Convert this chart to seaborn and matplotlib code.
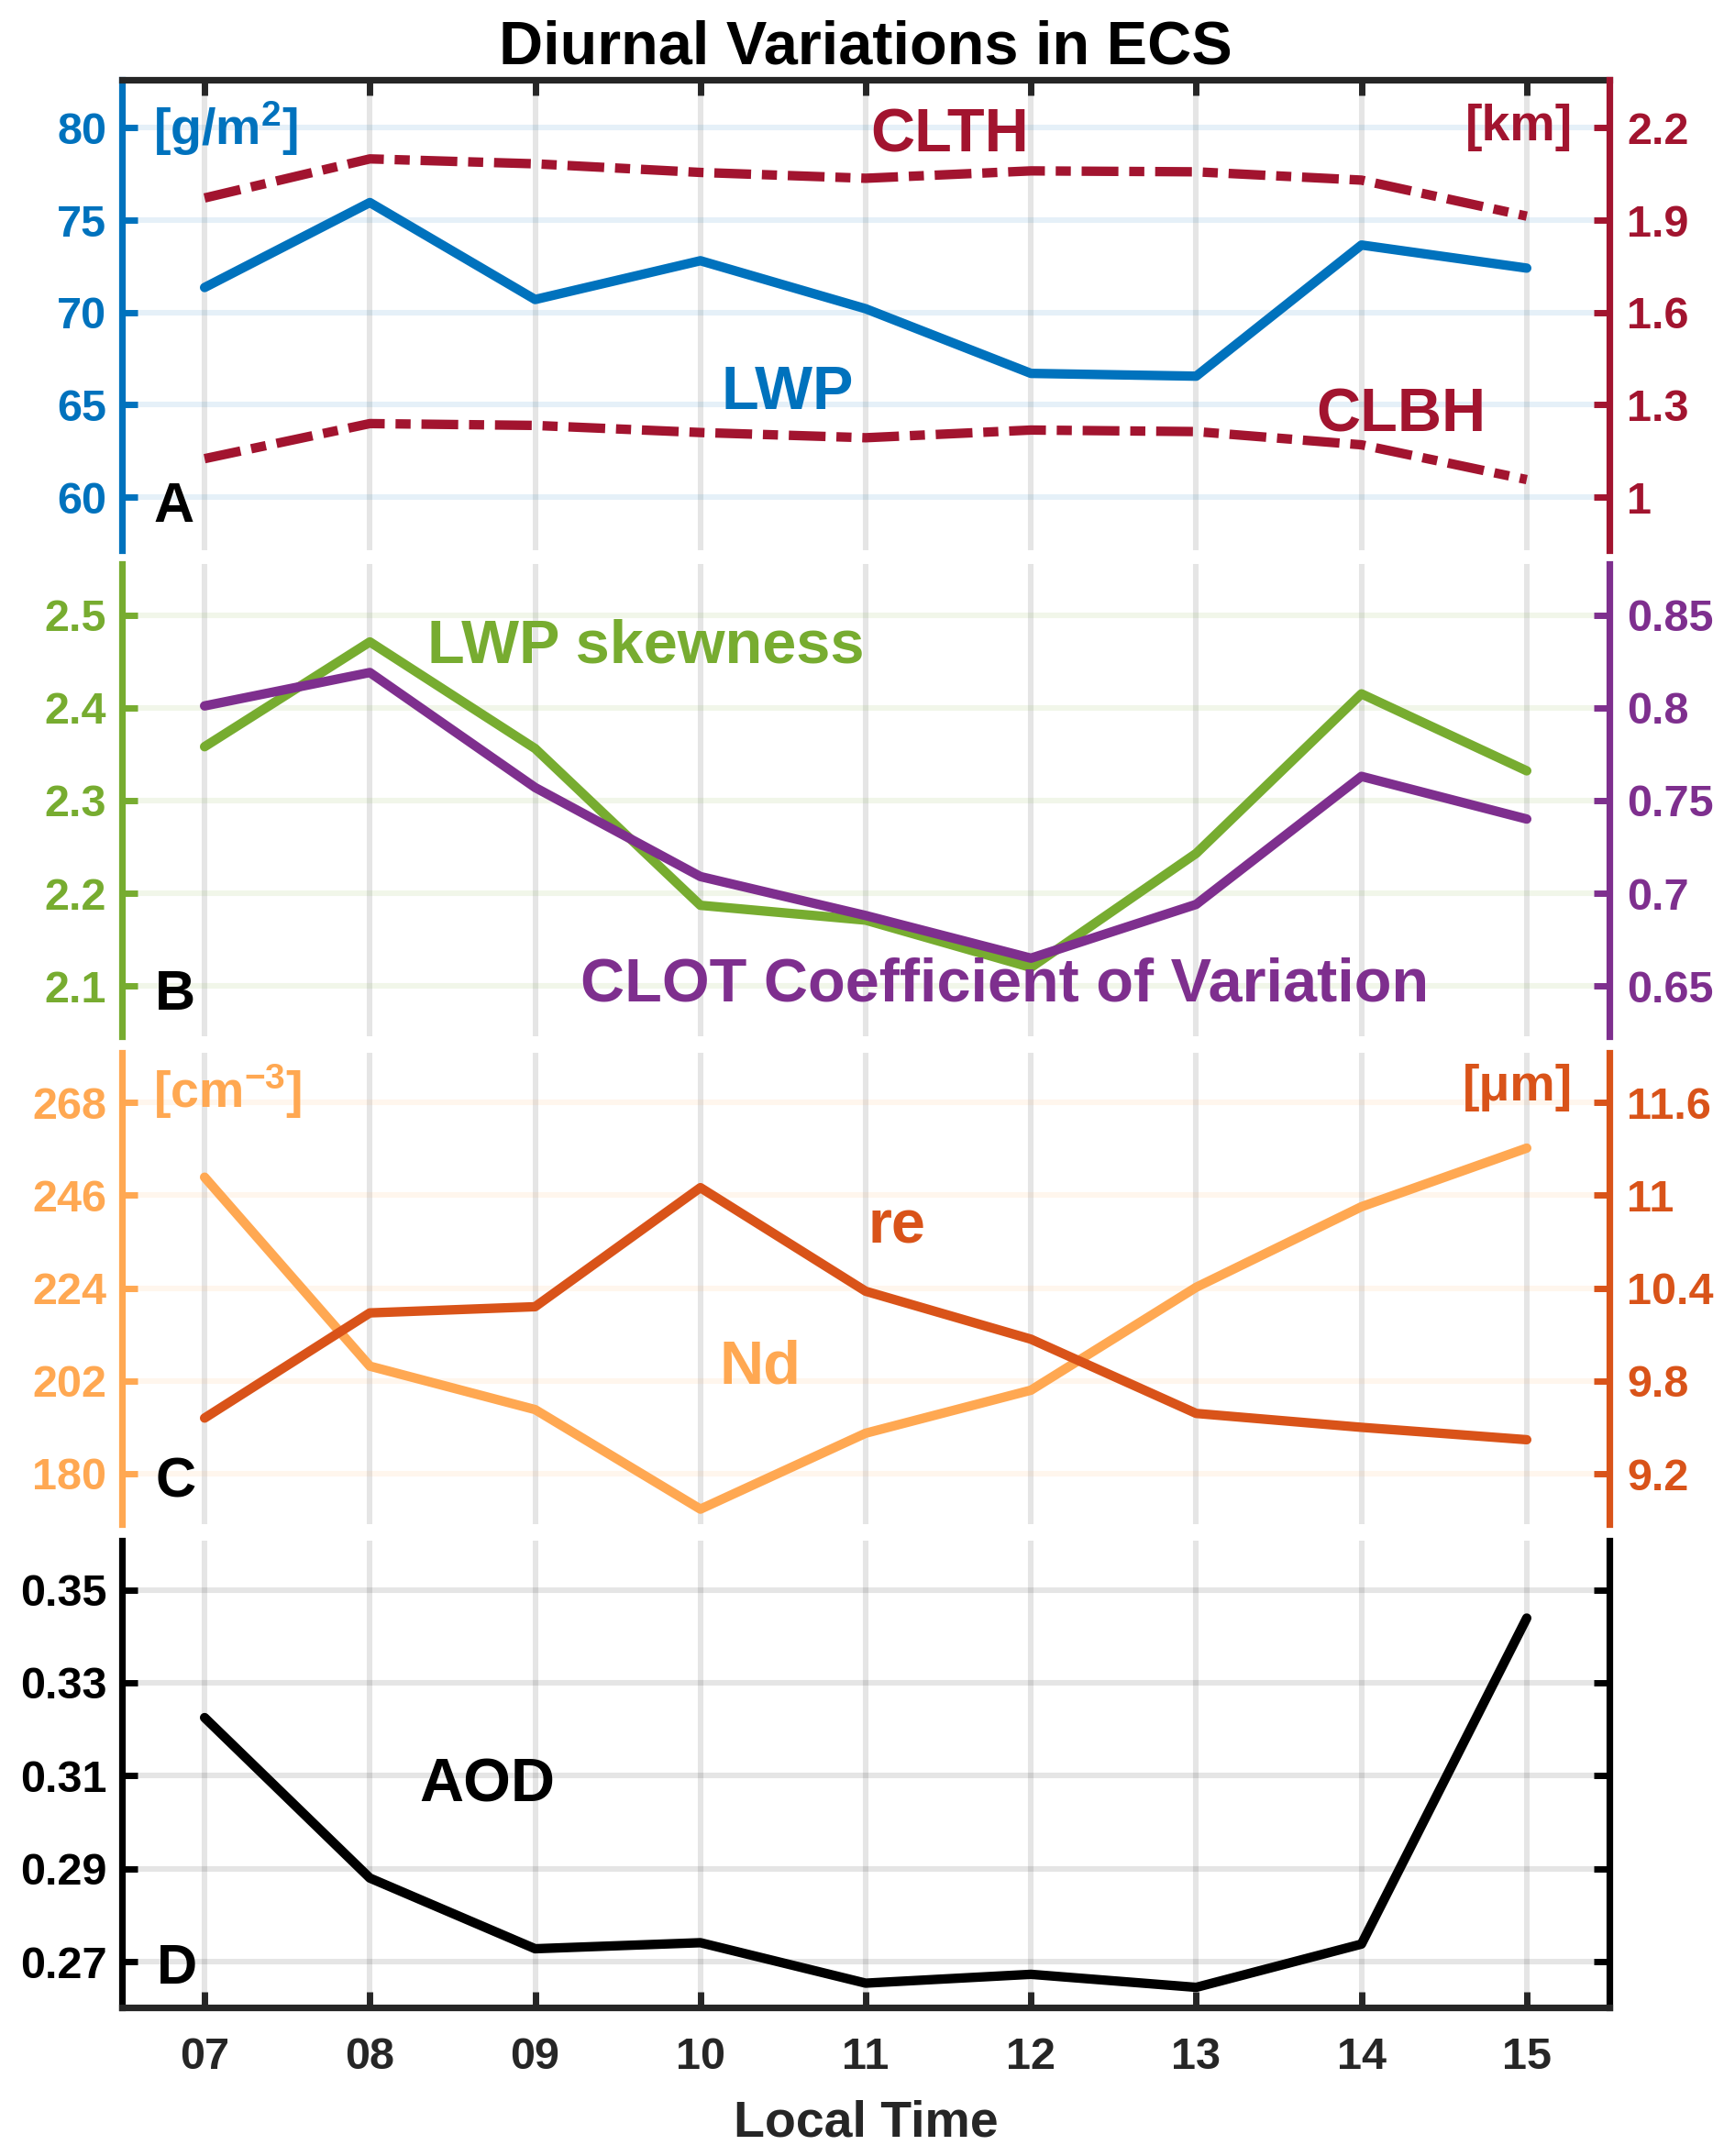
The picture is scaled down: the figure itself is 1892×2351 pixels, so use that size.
import matplotlib
matplotlib.use("Agg")
import matplotlib.pyplot as plt
import seaborn as sns

# ---------------- data ----------------
hours = [7, 8, 9, 10, 11, 12, 13, 14, 15]
hour_labels = ["07", "08", "09", "10", "11", "12", "13", "14", "15"]

lwp = [71.35, 75.95, 70.7, 72.8, 70.2, 66.7, 66.55, 73.65, 72.4]          # g/m2
clth = [1.972, 2.099, 2.083, 2.055, 2.036, 2.060, 2.057, 2.030, 1.913]     # km
clbh = [1.125, 1.239, 1.233, 1.210, 1.193, 1.218, 1.213, 1.170, 1.057]     # km

lwp_skew = [2.358, 2.471, 2.356, 2.187, 2.171, 2.120, 2.243, 2.415, 2.332]
clot_cv = [0.801, 0.819, 0.757, 0.709, 0.688, 0.665, 0.694, 0.763, 0.740]

nd = [250.3, 205.5, 195.2, 171.6, 189.6, 199.8, 224.2, 243.3, 257.2]       # cm-3
re_um = [9.56, 10.24, 10.28, 11.05, 10.38, 10.07, 9.59, 9.50, 9.42]        # um

aod = [0.3225, 0.2880, 0.2728, 0.2741, 0.2654, 0.2673, 0.2645, 0.2738, 0.3439]

a_left_ticks = [60, 65, 70, 75, 80]
a_right_ticks = [1.0, 1.3, 1.6, 1.9, 2.2]
a_right_labels = ["1", "1.3", "1.6", "1.9", "2.2"]
b_left_ticks = [2.1, 2.2, 2.3, 2.4, 2.5]
b_left_labels = ["2.1", "2.2", "2.3", "2.4", "2.5"]
b_right_ticks = [0.65, 0.70, 0.75, 0.80, 0.85]
b_right_labels = ["0.65", "0.7", "0.75", "0.8", "0.85"]
c_left_ticks = [180, 202, 224, 246, 268]
c_right_ticks = [9.2, 9.8, 10.4, 11.0, 11.6]
c_right_labels = ["9.2", "9.8", "10.4", "11", "11.6"]
d_left_ticks = [0.27, 0.29, 0.31, 0.33, 0.35]
d_left_labels = ["0.27", "0.29", "0.31", "0.33", "0.35"]

# ---------------- style ----------------
sns.set_style("white")
plt.rcParams["font.family"] = ["Liberation Sans", "DejaVu Sans"]
plt.rcParams["font.weight"] = "bold"
plt.rcParams["mathtext.fontset"] = "custom"
plt.rcParams["mathtext.rm"] = "Liberation Sans:bold"
plt.rcParams["mathtext.bf"] = "Liberation Sans:bold"
plt.rcParams["mathtext.it"] = "Liberation Sans:bold"
plt.rcParams["mathtext.default"] = "rm"

C_BLUE = "#0072BD"
C_DRED = "#A2142F"
C_GREEN = "#77AC30"
C_PURPLE = "#7E2F8E"
C_LORANGE = "#FFA852"
C_DORANGE = "#D95319"
C_AX = "#262626"

LW = 3.7
SPW = 2.6
TICKFS = 17.5
DASHDOT = (0, (3.9, 1.15, 1.6, 1.15))

fig = plt.figure(figsize=(9.46, 11.755), dpi=200)
fig.patch.set_facecolor("white")

L = 133 / 1892
W = (1755 - 133) / 1892
H_FIG = 2351


def panel(top_px, bot_px):
    return fig.add_axes([L, 1 - bot_px / H_FIG, W, (bot_px - top_px) / H_FIG])


def style_left(ax, color, ylim, ticks, labels=None):
    ax.set_xlim(6.5, 15.5)
    ax.set_ylim(*ylim)
    ax.set_yticks(ticks)
    if labels is not None:
        ax.set_yticklabels(labels)
    for s in ["top", "bottom", "right"]:
        ax.spines[s].set_visible(False)
    ax.spines["left"].set_color(color)
    ax.spines["left"].set_linewidth(SPW)
    ax.tick_params(axis="y", which="both", direction="in", length=6, width=2.5,
                   colors=color, labelsize=TICKFS, pad=6)
    ax.set_xticks(hours)
    ax.tick_params(axis="x", which="both", length=0, labelbottom=False,
                   labeltop=False)
    ax.grid(axis="x", color="black", alpha=0.1, lw=2.2)
    ax.grid(axis="y", color=color, alpha=0.1, lw=2.2)
    ax.set_axisbelow(True)
    ax.set_xlabel("")
    ax.set_ylabel("")
    for t in ax.get_yticklabels():
        t.set_fontweight("bold")


def style_right(ax2, color, ylim, ticks, labels):
    ax2.set_ylim(*ylim)
    ax2.set_yticks(ticks)
    ax2.set_yticklabels(labels)
    for s in ["top", "bottom", "left"]:
        ax2.spines[s].set_visible(False)
    ax2.spines["right"].set_color(color)
    ax2.spines["right"].set_linewidth(SPW)
    ax2.tick_params(axis="y", which="both", direction="in", length=6, width=2.5,
                    colors=color, labelsize=TICKFS, pad=7)
    ax2.set_xlabel("")
    ax2.set_ylabel("")
    ax2.grid(False)
    for t in ax2.get_yticklabels():
        t.set_fontweight("bold")


# ---------------- Panel A ----------------
axA = panel(87, 600)
sns.lineplot(x=hours, y=lwp, ax=axA, color=C_BLUE, linewidth=LW)
axA2 = axA.twinx()
sns.lineplot(x=hours, y=clth, ax=axA2, color=C_DRED, linewidth=LW,
             linestyle=DASHDOT, dash_capstyle="butt")
sns.lineplot(x=hours, y=clbh, ax=axA2, color=C_DRED, linewidth=LW,
             linestyle=DASHDOT, dash_capstyle="butt")
style_left(axA, C_BLUE, (57.125, 82.597), a_left_ticks)
style_right(axA2, C_DRED, (0.8275, 2.356), a_right_ticks, a_right_labels)
axA.spines["top"].set_visible(True)
axA.spines["top"].set_color(C_AX)
axA.spines["top"].set_linewidth(SPW)
axA.tick_params(axis="x", which="both", top=True, bottom=False, direction="in",
                length=6, width=2.5, color=C_AX, labeltop=False, labelbottom=False)

axA.text(6.69, 79.06, r"[g/m$^{2}$]", color=C_BLUE, fontsize=20,
         fontweight="bold", ha="left", va="baseline")
axA.text(15.28, 79.32, "[km]", color=C_DRED, fontsize=20,
         fontweight="bold", ha="right", va="baseline")
axA.text(11.51, 78.71, "CLTH", color=C_DRED, fontsize=24,
         fontweight="bold", ha="center", va="baseline")
axA.text(10.525, 64.77, "LWP", color=C_BLUE, fontsize=24,
         fontweight="bold", ha="center", va="baseline")
axA.text(14.24, 63.56, "CLBH", color=C_DRED, fontsize=24,
         fontweight="bold", ha="center", va="baseline")
axA.text(6.69, 58.68, "A", color="black", fontsize=22,
         fontweight="bold", ha="left", va="baseline")

# ---------------- Panel B ----------------
axB = panel(615, 1130)
sns.lineplot(x=hours, y=lwp_skew, ax=axB, color=C_GREEN, linewidth=LW)
axB2 = axB.twinx()
sns.lineplot(x=hours, y=clot_cv, ax=axB2, color=C_PURPLE, linewidth=LW)
style_left(axB, C_GREEN, (2.0458, 2.555), b_left_ticks, b_left_labels)
style_right(axB2, C_PURPLE, (0.6229, 0.8775), b_right_ticks, b_right_labels)

axB.text(9.667, 2.449, "LWP skewness", color=C_GREEN, fontsize=24,
         fontweight="bold", ha="center", va="baseline")
axB.text(11.84, 2.0837, "CLOT Coefficient of Variation", color=C_PURPLE,
         fontsize=24, fontweight="bold", ha="center", va="baseline")
axB.text(6.70, 2.0745, "B", color="black", fontsize=22,
         fontweight="bold", ha="left", va="baseline")

# ---------------- Panel C ----------------
axC = panel(1148, 1662)
sns.lineplot(x=hours, y=nd, ax=axC, color=C_LORANGE, linewidth=LW)
axC2 = axC.twinx()
sns.lineplot(x=hours, y=re_um, ax=axC2, color=C_DORANGE, linewidth=LW)
style_left(axC, C_LORANGE, (168.04, 279.8), c_left_ticks)
style_right(axC2, C_DORANGE, (8.874, 11.922), c_right_ticks, c_right_labels)

axC.text(6.69, 266.76, r"[cm$^{-3}$]", color=C_LORANGE, fontsize=20,
         fontweight="bold", ha="left", va="baseline")
axC.text(15.28, 268.5, "[μm]", color=C_DORANGE, fontsize=20,
         fontweight="bold", ha="right", va="baseline")
axC.text(11.19, 234.7, "re", color=C_DORANGE, fontsize=24,
         fontweight="bold", ha="center", va="baseline")
axC.text(10.36, 201.35, "Nd", color=C_LORANGE, fontsize=24,
         fontweight="bold", ha="center", va="baseline")
axC.text(6.70, 174.4, "C", color="black", fontsize=22,
         fontweight="bold", ha="left", va="baseline")

# ---------------- Panel D ----------------
axD = panel(1680, 2189)
sns.lineplot(x=hours, y=aod, ax=axD, color="black", linewidth=LW)
style_left(axD, "black", (0.26018, 0.36055), d_left_ticks, d_left_labels)
axD.grid(axis="y", color="black", alpha=0.1, lw=2.2)
axD.spines["right"].set_visible(True)
axD.spines["right"].set_color("black")
axD.spines["right"].set_linewidth(SPW)
axD.spines["bottom"].set_visible(True)
axD.spines["bottom"].set_color(C_AX)
axD.spines["bottom"].set_linewidth(SPW)
axD.tick_params(axis="y", which="both", left=True, right=True, labelright=False,
                direction="in", length=6, width=2.5, colors="black")
axD.set_xticks(hours)
axD.set_xticklabels(hour_labels)
axD.tick_params(axis="x", which="both", bottom=True, top=False, direction="in",
                length=6, width=2.5, color=C_AX, labelcolor=C_AX,
                labelbottom=True, labelsize=TICKFS, pad=11.5)
for t in axD.get_xticklabels():
    t.set_fontweight("bold")

axD.text(8.71, 0.3045, "AOD", color="black", fontsize=24,
         fontweight="bold", ha="center", va="baseline")
axD.text(6.71, 0.2653, "D", color="black", fontsize=22,
         fontweight="bold", ha="left", va="baseline")

# ---------------- title / x label ----------------
xc = (133 + 1755) / 2 / 1892
fig.text(xc, 1 - 69 / H_FIG, "Diurnal Variations in ECS", ha="center",
         va="baseline", fontsize=24, fontweight="bold", color="black")
fig.text(xc, 1 - 2330 / H_FIG, "Local Time", ha="center", va="baseline",
         fontsize=20, fontweight="bold", color=C_AX)

for a in (axA, axA2, axB, axB2, axC, axC2, axD):
    a.set_xlim(6.5, 15.5)

fig.savefig("out.png", dpi=200, facecolor="white")
